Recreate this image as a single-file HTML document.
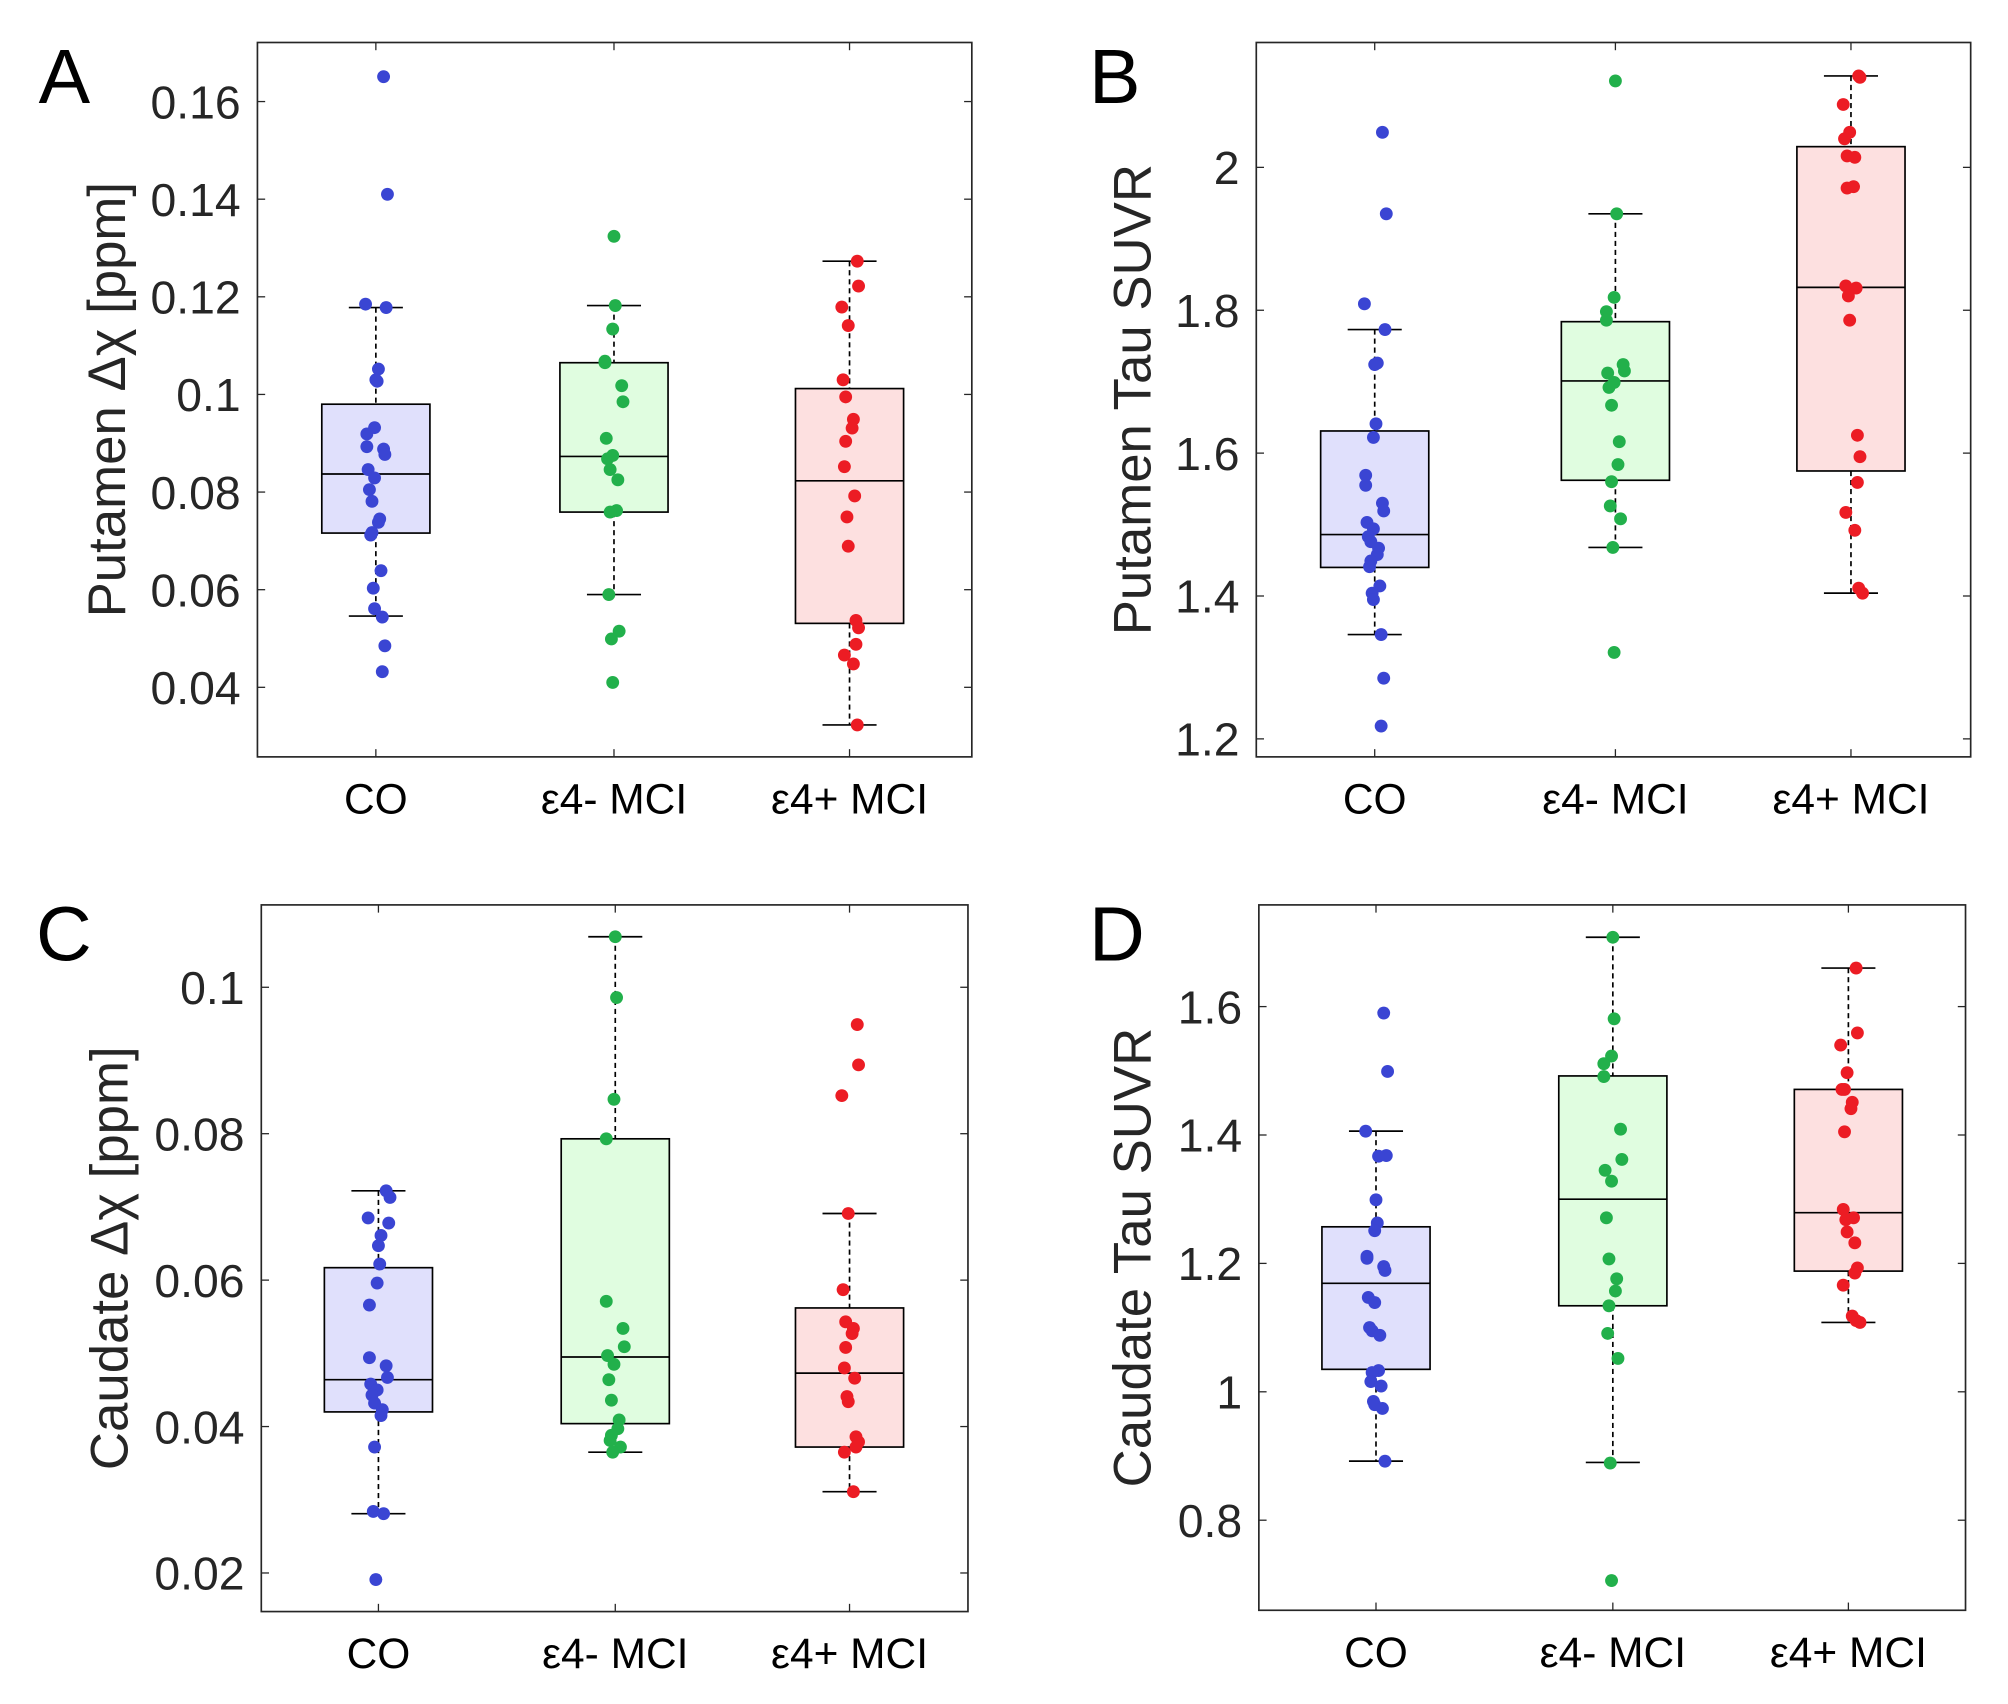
<!DOCTYPE html>
<html><head><meta charset="utf-8"><style>
html,body{margin:0;padding:0;background:#fff}
svg{display:block}
text{font-family:"Liberation Sans","DejaVu Sans",sans-serif}
</style></head><body>
<svg id="fig" width="2008" height="1704" viewBox="0 0 1560 1323.8" xmlns="http://www.w3.org/2000/svg"></svg>
<script>
// ---- data ----
const categories = ["CO", "ε4- MCI", "ε4+ MCI"];
// Panel A: Putamen Δχ
const aCO  = [0.1651,0.141,0.1185,0.1178,0.1052,0.103,0.1027,0.0932,0.0919,0.0893,0.0888,0.0877,0.0846,0.0829,0.0805,0.0781,0.0745,0.0738,0.0717,0.0712,0.0639,0.0603,0.0561,0.0544,0.0485,0.0432];
const aNeg = [0.1324,0.1182,0.1134,0.1068,0.1065,0.1018,0.0985,0.091,0.0875,0.0868,0.0846,0.0825,0.0762,0.0759,0.059,0.0515,0.0499,0.041];
const aPos = [0.1273,0.1222,0.1179,0.1141,0.103,0.0995,0.0949,0.0931,0.0904,0.0852,0.0792,0.0749,0.0689,0.0537,0.0522,0.0488,0.0466,0.0448,0.0323];
const aQ1 = [0.0716,0.0759,0.0531], aMed = [0.0837,0.0873,0.0823], aQ3 = [0.098,0.1065,0.1012];
const aWLo = [0.0546,0.059,0.0323], aWHi = [0.1178,0.1182,0.1273];
const aTicks = [0.04,0.06,0.08,0.1,0.12,0.14,0.16];
const aTickLabels = ["0.04","0.06","0.08","0.1","0.12","0.14","0.16"];
// Panel B: Putamen Tau SUVR
const bCO  = [2.049,1.935,1.809,1.773,1.726,1.724,1.641,1.622,1.569,1.555,1.530,1.519,1.503,1.494,1.483,1.476,1.467,1.458,1.449,1.441,1.414,1.404,1.395,1.346,1.285,1.218];
const bNeg = [2.121,1.935,1.818,1.798,1.786,1.724,1.715,1.712,1.699,1.692,1.667,1.616,1.584,1.560,1.526,1.508,1.468,1.321];
const bPos = [2.128,2.126,2.088,2.049,2.040,2.016,2.014,1.973,1.971,1.834,1.831,1.820,1.786,1.625,1.595,1.559,1.517,1.492,1.411,1.404];
const bQ1 = [1.440,1.562,1.575], bMed = [1.486,1.701,1.832], bQ3 = [1.631,1.784,2.029];
const bWLo = [1.346,1.468,1.404], bWHi = [1.773,1.935,2.128];
const bTicks = [1.2,1.4,1.6,1.8,2];
const bTickLabels = ["1.2","1.4","1.6","1.8","2"];
// Panel C: Caudate Δχ
const cCO  = [0.0722,0.0713,0.0685,0.0678,0.0661,0.0647,0.0622,0.0596,0.0566,0.0494,0.0483,0.0467,0.0458,0.0450,0.0443,0.0432,0.0423,0.0415,0.0372,0.0284,0.0281,0.0191];
const cNeg = [0.1069,0.0986,0.0847,0.0793,0.0571,0.0534,0.0509,0.0497,0.0485,0.0464,0.0436,0.0409,0.0397,0.0388,0.0381,0.0372,0.0365];
const cPos = [0.0949,0.0894,0.0852,0.0691,0.0587,0.0543,0.0534,0.0527,0.0508,0.0480,0.0466,0.0441,0.0434,0.0386,0.0379,0.0372,0.0365,0.0311];
const cQ1 = [0.0420,0.0404,0.0372], cMed = [0.0464,0.0495,0.0473], cQ3 = [0.0617,0.0793,0.0562];
const cWLo = [0.0281,0.0365,0.0311], cWHi = [0.0722,0.1069,0.0691];
const cTicks = [0.02,0.04,0.06,0.08,0.1];
const cTickLabels = ["0.02","0.04","0.06","0.08","0.1"];
// Panel D: Caudate Tau SUVR
const dCO  = [1.590,1.499,1.406,1.368,1.367,1.299,1.263,1.251,1.211,1.208,1.195,1.189,1.147,1.139,1.100,1.095,1.088,1.033,1.030,1.016,1.009,0.985,0.980,0.974,0.892];
const dNeg = [1.708,1.581,1.523,1.511,1.491,1.409,1.362,1.345,1.328,1.271,1.207,1.176,1.157,1.134,1.091,1.052,0.889,0.706];
const dPos = [1.660,1.559,1.540,1.497,1.471,1.471,1.451,1.441,1.405,1.284,1.271,1.268,1.249,1.232,1.193,1.185,1.166,1.118,1.111,1.108];
const dQ1 = [1.035,1.134,1.188], dMed = [1.169,1.300,1.279], dQ3 = [1.257,1.492,1.471];
const dWLo = [0.892,0.890,1.108], dWHi = [1.406,1.708,1.660];
const dTicks = [0.8,1,1.2,1.4,1.6];
const dTickLabels = ["0.8","1","1.2","1.4","1.6"];

// ---- drawing ----
const NS = "http://www.w3.org/2000/svg";
const svg = document.getElementById("fig");
const colors = ["#3a45d3","#22b04b","#ec1c24"];
const fills = ["#e0e0fc","#e0fde0","#fde0e0"];
const jit = [6,9,-8,8,2,0,1,-1,-7,-7,6,7,-6,-1,-5,-3,3,2,-3,-4,4,-2,-1,5,7,5,-4,3];
function mk(tag, attrs, parent){
  const e = document.createElementNS(NS, tag);
  for (const k in attrs) e.setAttribute(k, attrs[k]);
  (parent||svg).appendChild(e);
  return e;
}
function panel(p){
  const g = mk("g", {});
  
  
  const y = v => p.y1 + (p.vmax - v) / (p.vmax - p.vmin) * (p.y2 - p.y1);
  const x = i => p.cx[i];
  p.ticks.forEach((t, i) => {
    const yy = y(t);
    mk("line", {x1:p.x1, x2:p.x1+6, y1:yy, y2:yy, stroke:"#262626", "stroke-width":1}, g);
    mk("line", {x1:p.x2, x2:p.x2-6, y1:yy, y2:yy, stroke:"#262626", "stroke-width":1}, g);
    const tl = mk("text", {x:p.x1-13, y:yy+13, "text-anchor":"end", "font-size":36, fill:"#262626"}, g);
    
    
    tl.textContent = p.tickLabels[i];
  });
  categories.forEach((c, i) => {
    mk("line", {x1:x(i), x2:x(i), y1:p.y1, y2:p.y1+6, stroke:"#262626"}, g);
    mk("line", {x1:x(i), x2:x(i), y1:p.y2, y2:p.y2-6, stroke:"#262626"}, g);
    const cl = mk("text", {x:x(i), y:p.y2+44, "text-anchor":"middle", "font-size":33, fill:"#000"}, g);
    
    
    cl.textContent = c;
  });
  const hw = 42;
  categories.forEach((c, i) => {
    const cx = x(i);
    mk("line", {x1:cx, x2:cx, y1:y(p.wHi[i]), y2:y(p.q3[i]), stroke:"#000", "stroke-dasharray":"4,3", "stroke-width":1.3}, g);
    mk("line", {x1:cx, x2:cx, y1:y(p.q1[i]), y2:y(p.wLo[i]), stroke:"#000", "stroke-dasharray":"4,3", "stroke-width":1.3}, g);
    mk("line", {x1:cx-21, x2:cx+21, y1:y(p.wHi[i]), y2:y(p.wHi[i]), stroke:"#000", "stroke-width":1.3}, g);
    mk("line", {x1:cx-21, x2:cx+21, y1:y(p.wLo[i]), y2:y(p.wLo[i]), stroke:"#000", "stroke-width":1.3}, g);
    const b = mk("rect", {x:cx-hw, y:y(p.q3[i]), width:2*hw, height:y(p.q1[i])-y(p.q3[i]), fill:fills[i], stroke:"#000", "stroke-width":1.3}, g);
    
    
    mk("line", {x1:cx-hw, x2:cx+hw, y1:y(p.med[i]), y2:y(p.med[i]), stroke:"#000", "stroke-width":1.3}, g);
  });
  p.groups.forEach((arr, i) => {
    arr.forEach((v, k) => {
      const d = mk("circle", {cx:x(i)+jit[(k+i*5)%jit.length], cy:y(v), r:5, fill:colors[i]}, g);
      
      
    });
  });
  mk("rect", {x:p.x1, y:p.y1, width:p.x2-p.x1, height:p.y2-p.y1, fill:"none", stroke:"#262626", "stroke-width":1.3}, g);
  const t = mk("text", {transform:`translate(${p.tx},${(p.y1+p.y2)/2}) rotate(-90)`, "text-anchor":"middle", "font-size":41, fill:"#262626"}, g);
  
  
  t.textContent = p.title;
  const L = mk("text", {x:p.lx, y:p.ly, "font-size":60, fill:"#000"}, g);
  
  
  L.textContent = p.id;
}
panel({id:"A", x1:200, x2:755, y1:33, y2:588, vmin:0.02575, vmax:0.1721, cx:[292,477,660],
  ticks:aTicks, tickLabels:aTickLabels, groups:[aCO,aNeg,aPos], q1:aQ1, med:aMed, q3:aQ3, wLo:aWLo, wHi:aWHi,
  title:"Putamen Δχ [ppm]", tx:97, lx:30, ly:80});
panel({id:"B", x1:976, x2:1531, y1:33, y2:588, vmin:1.1748, vmax:2.1748, cx:[1068,1255,1438],
  ticks:bTicks, tickLabels:bTickLabels, groups:[bCO,bNeg,bPos], q1:bQ1, med:bMed, q3:bQ3, wLo:bWLo, wHi:bWHi,
  title:"Putamen Tau SUVR", tx:894, lx:846, ly:80});
panel({id:"C", x1:203, x2:752, y1:703, y2:1252, vmin:0.01473, vmax:0.11125, cx:[294,478,660],
  ticks:cTicks, tickLabels:cTickLabels, groups:[cCO,cNeg,cPos], q1:cQ1, med:cMed, q3:cQ3, wLo:cWLo, wHi:cWHi,
  title:"Caudate Δχ [ppm]", tx:99, lx:28, ly:746});
panel({id:"D", x1:978, x2:1527, y1:703, y2:1251, vmin:0.6597, vmax:1.7584, cx:[1069,1253,1436],
  ticks:dTicks, tickLabels:dTickLabels, groups:[dCO,dNeg,dPos], q1:dQ1, med:dMed, q3:dQ3, wLo:dWLo, wHi:dWHi,
  title:"Caudate Tau SUVR", tx:894, lx:846, ly:746});
</script>
</body></html>
